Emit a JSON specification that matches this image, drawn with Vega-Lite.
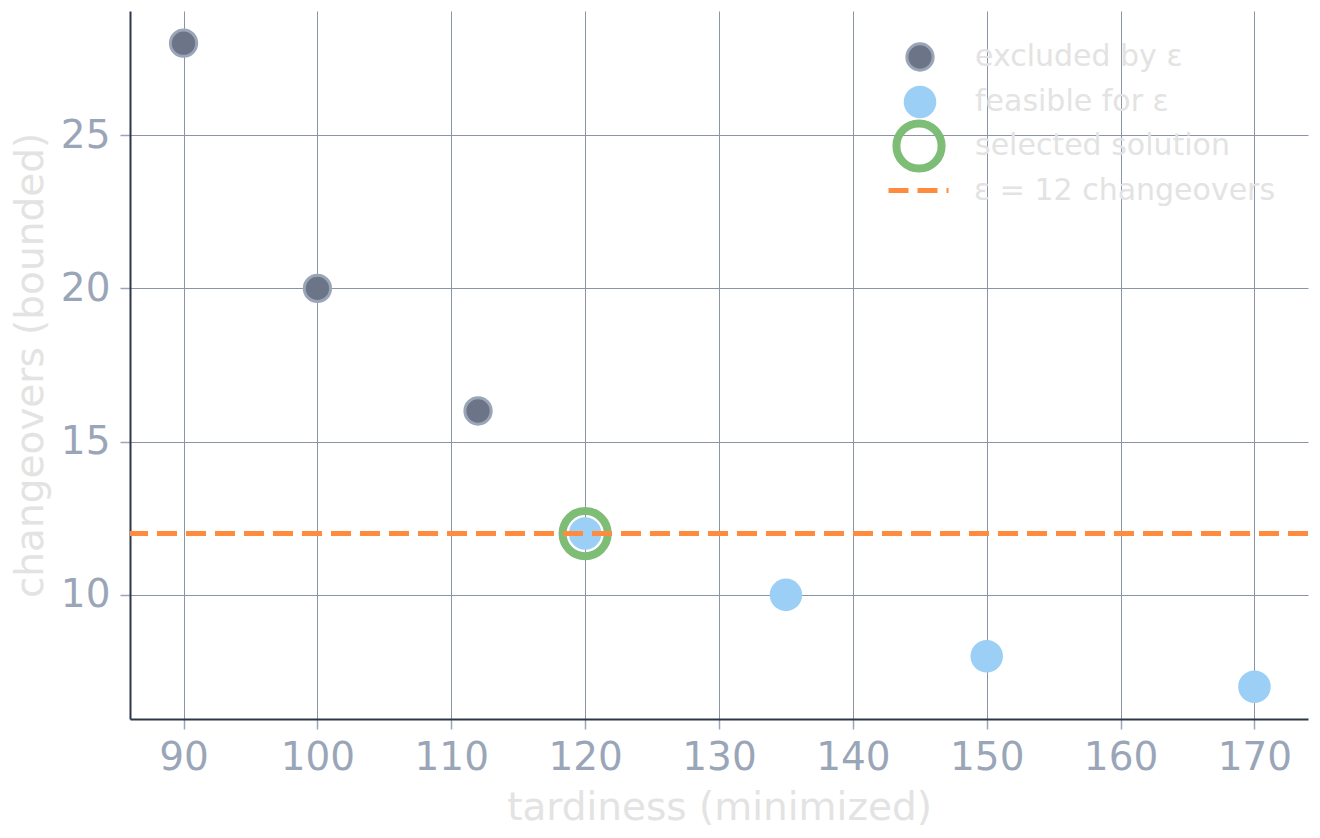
{
  "$schema": "https://vega.github.io/schema/vega-lite/v6.json",
  "autosize": "none",
  "width": 1178,
  "height": 708,
  "padding": {"left": 130, "top": 11, "right": 12, "bottom": 119},
  "background": "white",
  "datasets": {
    "solutions": [
      {"tardiness": 90, "changeovers": 28, "series": "excluded by ε"},
      {"tardiness": 100, "changeovers": 20, "series": "excluded by ε"},
      {"tardiness": 112, "changeovers": 16, "series": "excluded by ε"},
      {"tardiness": 120, "changeovers": 12, "series": "feasible for ε"},
      {"tardiness": 135, "changeovers": 10, "series": "feasible for ε"},
      {"tardiness": 150, "changeovers": 8, "series": "feasible for ε"},
      {"tardiness": 170, "changeovers": 7, "series": "feasible for ε"}
    ],
    "selected": [
      {"tardiness": 120, "changeovers": 12, "sel": "selected solution"}
    ],
    "epsilon": [
      {"changeovers": 12, "line": "ε = 12 changeovers"}
    ]
  },
  "encoding": {
    "x": {
      "field": "tardiness",
      "type": "quantitative",
      "title": "tardiness (minimized)",
      "scale": {"domain": [86, 174], "nice": false, "zero": false},
      "axis": {
        "values": [90, 100, 110, 120, 130, 140, 150, 160, 170],
        "labelPadding": 9,
        "titleY": 100,
        "titleBaseline": "alphabetic"
      }
    },
    "y": {
      "field": "changeovers",
      "type": "quantitative",
      "title": "changeovers (bounded)",
      "scale": {"domain": [5.95, 29.05], "nice": false, "zero": false},
      "axis": {
        "values": [10, 15, 20, 25],
        "labelPadding": 10,
        "titleX": -88,
        "titleY": 354,
        "titleBaseline": "alphabetic"
      }
    }
  },
  "layer": [
    {
      "data": {"name": "solutions"},
      "mark": {"type": "circle", "opacity": 1},
      "encoding": {
        "color": {
          "field": "series",
          "type": "nominal",
          "scale": {
            "domain": ["excluded by ε", "feasible for ε"],
            "range": ["#6b7587", "#9bcff6"]
          },
          "legend": {
            "orient": "none",
            "legendX": 775,
            "legendY": 31,
            "title": null,
            "padding": 0,
            "symbolSize": 1057,
            "symbolStrokeWidth": 3,
            "symbolStrokeColor": "#9aa6b8",
            "symbolOpacity": 1,
            "labelOffset": 40,
            "rowPadding": 8,
            "encode": {
              "symbols": {
                "update": {
                  "fill": {"signal": "datum.value === 'excluded by ε' ? '#6b7587' : '#9bcff6'"},
                  "stroke": {"signal": "datum.value === 'excluded by ε' ? '#9aa6b8' : '#9bcff6'"},
                  "strokeWidth": {"signal": "datum.value === 'excluded by ε' ? 3 : 0"},
                  "size": {"signal": "datum.value === 'excluded by ε' ? 693 : 1057"},
                  "opacity": {"value": 1}
                }
              }
            }
          }
        },
        "stroke": {
          "condition": {"test": "datum.series === 'excluded by ε'", "value": "#9aa6b8"},
          "value": "transparent"
        },
        "strokeWidth": {
          "condition": {"test": "datum.series === 'excluded by ε'", "value": 3},
          "value": 0
        },
        "size": {
          "condition": {"test": "datum.series === 'excluded by ε'", "value": 693},
          "value": 1057
        }
      }
    },
    {
      "data": {"name": "selected"},
      "mark": {"type": "point", "filled": false, "opacity": 1, "strokeWidth": 8, "size": 2043},
      "encoding": {
        "stroke": {
          "field": "sel",
          "type": "nominal",
          "scale": {"domain": ["selected solution"], "range": ["#7dbd76"]},
          "legend": {
            "orient": "none",
            "legendX": 762,
            "legendY": 108,
            "title": null,
            "padding": 0,
            "symbolType": "circle",
            "symbolSize": 2043,
            "symbolStrokeWidth": 8,
            "symbolFillColor": "transparent",
            "symbolOpacity": 1,
            "labelOffset": 29
          }
        }
      }
    },
    {
      "data": {"name": "epsilon"},
      "mark": {"type": "rule", "color": "#ff8c3e", "strokeWidth": 5},
      "encoding": {
        "x": null,
        "y": {"field": "changeovers", "type": "quantitative"},
        "strokeDash": {
          "field": "line",
          "type": "nominal",
          "scale": {"domain": ["ε = 12 changeovers"], "range": [[20, 9]]},
          "legend": {
            "orient": "none",
            "legendX": 756,
            "legendY": 147,
            "title": null,
            "padding": 0,
            "symbolType": "stroke",
            "symbolSize": 3600,
            "symbolStrokeWidth": 5,
            "symbolStrokeColor": "#ff8c3e",
            "symbolOpacity": 1,
            "labelOffset": 23
          }
        }
      }
    }
  ],
  "config": {
    "view": {"stroke": null},
    "font": "DejaVu Sans",
    "axis": {
      "labelFont": "DejaVu Sans",
      "labelFontSize": 39,
      "labelColor": "#9aa6b8",
      "titleFont": "DejaVu Sans",
      "titleFontSize": 39,
      "titleFontWeight": "normal",
      "titleColor": "#e3e3e3",
      "grid": true,
      "gridColor": "#8b94a6",
      "gridWidth": 1,
      "domainColor": "#2d3748",
      "domainWidth": 2,
      "tickColor": "#9aa6b8",
      "tickWidth": 1.5,
      "tickSize": 10
    },
    "legend": {
      "labelFont": "DejaVu Sans",
      "labelFontSize": 30,
      "labelColor": "#e3e3e3",
      "labelLimit": 400
    }
  }
}
